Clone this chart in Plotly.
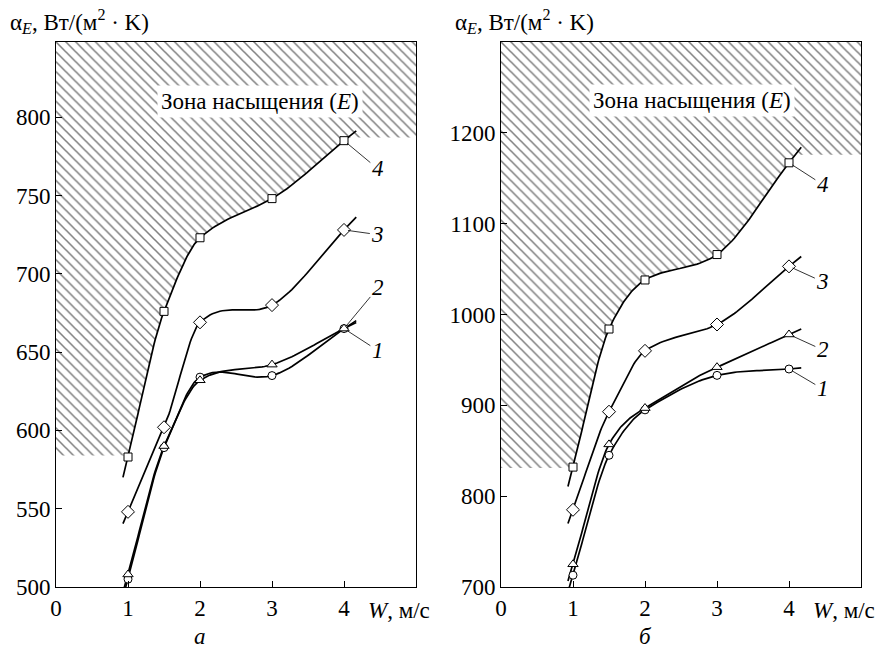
import numpy as np
import plotly.graph_objects as go

# ---------------- data ----------------
W = [1.0, 1.5, 2.0, 3.0, 4.0]

a_curve1 = [505, 589, 634, 635, 665]
a_curve2 = [508, 590, 632, 642, 665]
a_curve3 = [548, 602, 669, 680, 728]
a_curve4 = [583, 676, 723, 748, 785]

b_curve1 = [713, 845, 895, 933, 940]
b_curve2 = [725, 857, 897, 942, 978]
b_curve3 = [785, 893, 960, 989, 1053]
b_curve4 = [832, 984, 1038, 1066, 1167]

# saturation zone limits (lower-left level, upper-right level)
a_zone = [584, 787]
b_zone = [831, 1176]

x_ticks = [0, 1, 2, 3, 4]
a_yticks = [500, 550, 600, 650, 700, 750, 800]
b_yticks = [700, 800, 900, 1000, 1100, 1200]
a_yrange = [500, 848]
b_yrange = [700, 1300]
x_range = [0, 5]

curve_names = ["1", "2", "3", "4"]
symbols = ["circle", "triangle-up", "diamond", "square"]
msizes = [8, 9, 10, 8]

# label positions (label x/y) for each curve, per panel
a_label_pos = [(4.47, 651), (4.47, 691), (4.47, 725), (4.47, 767)]
b_label_pos = [(4.47, 918), (4.47, 961), (4.47, 1036), (4.47, 1143)]

FONT = "Liberation Serif, Times New Roman, serif"
FS = 23


def tangents(x, y, k=0.85):
    x = np.asarray(x, float)
    y = np.asarray(y, float)
    n = len(x)
    m = np.zeros(n)
    m[0] = (y[1] - y[0]) / (x[1] - x[0])
    m[-1] = (y[-1] - y[-2]) / (x[-1] - x[-2])
    for i in range(1, n - 1):
        m[i] = k * (y[i + 1] - y[i - 1]) / (x[i + 1] - x[i - 1])
    return m


def smooth(x, y, t0=0.07, t1=0.17, npts=30):
    x = np.asarray(x, float)
    y = np.asarray(y, float)
    m = tangents(x, y)
    xs, ys = [x[0] - t0], [y[0] - m[0] * t0]
    for i in range(len(x) - 1):
        h = x[i + 1] - x[i]
        t = np.linspace(0, 1, npts)
        h00 = 2 * t**3 - 3 * t**2 + 1
        h10 = t**3 - 2 * t**2 + t
        h01 = -2 * t**3 + 3 * t**2
        h11 = t**3 - t**2
        yy = h00 * y[i] + h10 * h * m[i] + h01 * y[i + 1] + h11 * h * m[i + 1]
        xx = x[i] + t * h
        xs.extend(xx.tolist())
        ys.extend(yy.tolist())
    xs.append(x[-1] + t1)
    ys.append(y[-1] + m[-1] * t1)
    return np.array(xs), np.array(ys), m


fig = go.Figure()

panels = [
    ("x", "y", [a_curve1, a_curve2, a_curve3, a_curve4], a_zone, a_yrange, a_label_pos),
    ("x2", "y2", [b_curve1, b_curve2, b_curve3, b_curve4], b_zone, b_yrange, b_label_pos),
]

annotations = []
for xa, ya, curves, zone, yr, lpos in panels:
    # hatched saturation zone
    xs4, ys4, m4 = smooth(W, curves[3])
    sel = (xs4 >= W[0]) & (xs4 <= W[-1])
    cx = xs4[sel].tolist()
    cy = ys4[sel].tolist()
    x_hi = W[-1] + max(zone[1] - curves[3][-1], 0) / m4[-1]
    px = [x_range[0], x_range[0], W[0]] + cx + [x_hi, x_range[1], x_range[1], x_range[0]]
    py = [yr[1], zone[0], zone[0]] + cy + [zone[1], zone[1], yr[1], yr[1]]
    fig.add_trace(go.Scatter(
        x=px, y=py, xaxis=xa, yaxis=ya, mode="lines", fill="toself",
        line=dict(width=0, color="rgba(0,0,0,0)"),
        fillcolor="white",
        fillpattern=dict(shape="\\", size=7, solidity=0.22, fgcolor="black", bgcolor="white"),
        hoverinfo="skip", showlegend=False))

    for ci, ydata in enumerate(curves):
        xs, ys, _ = smooth(W, ydata)
        fig.add_trace(go.Scatter(
            x=xs, y=ys, xaxis=xa, yaxis=ya, mode="lines",
            line=dict(color="black", width=1.7), showlegend=False, hoverinfo="skip"))
    for ci, ydata in enumerate(curves):
        fig.add_trace(go.Scatter(
            x=W, y=ydata, xaxis=xa, yaxis=ya, mode="markers",
            marker=dict(symbol=symbols[ci], size=msizes[ci], color="white",
                        line=dict(color="black", width=1)),
            showlegend=False))
        lx, ly = lpos[ci]
        annotations.append(dict(
            x=W[-1], y=ydata[-1], xref=xa, yref=ya,
            ax=lx, ay=ly, axref=xa, ayref=ya,
            text="<i>" + curve_names[ci] + "</i>", showarrow=True,
            arrowhead=0, arrowwidth=0.8, arrowcolor="black", standoff=4,
            font=dict(family=FONT, size=FS, color="black")))

# zone labels
annotations.append(dict(x=2.83, y=810, xref="x", yref="y", showarrow=False,
                        text="Зона насыщения (<i>E</i>)", bgcolor="white", borderpad=3,
                        font=dict(family=FONT, size=FS, color="black")))
annotations.append(dict(x=2.65, y=1236, xref="x2", yref="y2", showarrow=False,
                        text="Зона насыщения (<i>E</i>)", bgcolor="white", borderpad=3,
                        font=dict(family=FONT, size=FS, color="black")))

# axis titles
ytitle = "α<sub><i>E</i></sub>, Вт/(м<sup>2</sup> · K)"
for xp in [8 / 883, 453 / 883]:
    annotations.append(dict(x=xp, y=1 - 21 / 653, xref="paper", yref="paper",
                            xanchor="left", yanchor="middle", showarrow=False,
                            text=ytitle, font=dict(family=FONT, size=FS, color="black")))
for xp in [366 / 883, 811 / 883]:
    annotations.append(dict(x=xp, y=1 - 610 / 653, xref="paper", yref="paper",
                            xanchor="left", yanchor="middle", showarrow=False,
                            text="<i>W</i>, м/с", font=dict(family=FONT, size=FS, color="black")))
for xp, t in [(200 / 883, "а"), (645 / 883, "б")]:
    annotations.append(dict(x=xp, y=1 - 636 / 653, xref="paper", yref="paper",
                            xanchor="center", yanchor="middle", showarrow=False,
                            text="<i>" + t + "</i>", font=dict(family=FONT, size=FS, color="black")))

ydom = [1 - 587 / 653, 1 - 42 / 653]
axis_common = dict(showline=True, mirror=True, linecolor="black", linewidth=1,
                   ticks="inside", ticklen=6, tickcolor="black", tickwidth=1,
                   showgrid=False, zeroline=False, automargin=False,
                   tickfont=dict(family=FONT, size=FS, color="black"))

fig.update_layout(
    width=883, height=653,
    margin=dict(l=0, r=0, t=0, b=0, pad=0, autoexpand=False),
    paper_bgcolor="white", plot_bgcolor="white",
    showlegend=False,
    font=dict(family=FONT, size=FS, color="black"),
    xaxis=dict(domain=[56 / 883, 416 / 883], range=x_range, tickvals=x_ticks,
               anchor="y", **axis_common),
    yaxis=dict(domain=ydom, range=a_yrange, tickvals=a_yticks, anchor="x", **axis_common),
    xaxis2=dict(domain=[501 / 883, 861 / 883], range=x_range, tickvals=x_ticks,
                anchor="y2", **axis_common),
    yaxis2=dict(domain=ydom, range=b_yrange, tickvals=b_yticks, anchor="x2", **axis_common),
    annotations=annotations,
)

fig.write_html("out.html")
